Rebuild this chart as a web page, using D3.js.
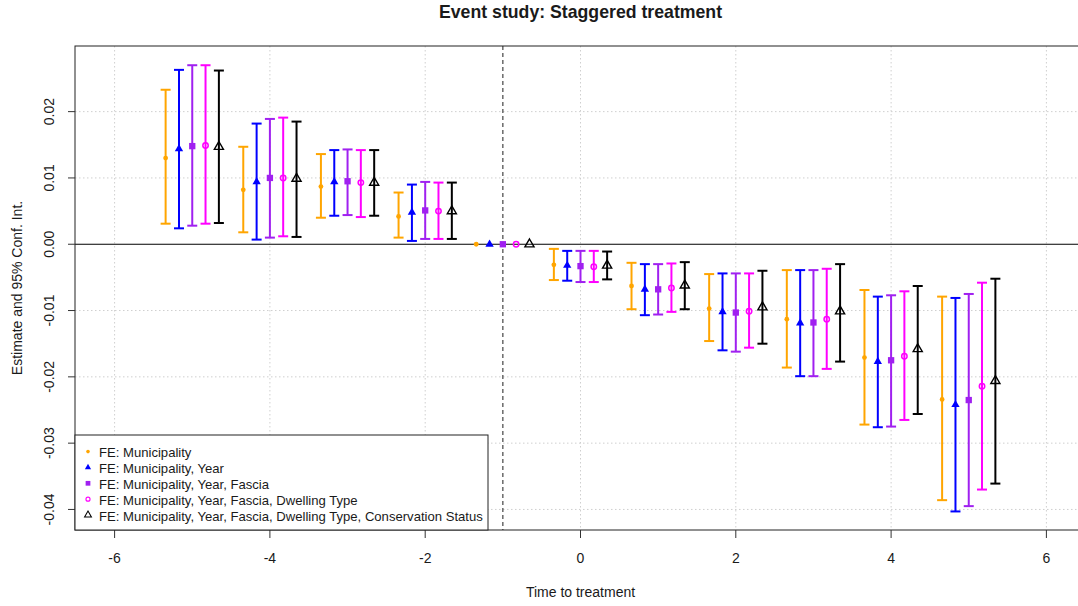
<!DOCTYPE html>
<html>
<head>
<meta charset="utf-8">
<script src="https://cdn.jsdelivr.net/npm/d3@7"></script>
<style>
  body { margin: 0; background: #fff; }
  text { font-family: "Liberation Sans", Arial, sans-serif; fill: #1a1a1a; }
</style>
</head>
<body>
<div id="chart"></div>
<script>
// periods relative to treatment
var periods = [-5, -4, -3, -2, -1, 0, 1, 2, 3, 4, 5];

var seriesNames = [
  "FE: Municipality",
  "FE: Municipality, Year",
  "FE: Municipality, Year, Fascia",
  "FE: Municipality, Year, Fascia, Dwelling Type",
  "FE: Municipality, Year, Fascia, Dwelling Type, Conservation Status"
];

// point estimates
var estMuni  = [0.0130, 0.0082, 0.0087, 0.0042, 0, -0.0031, -0.0063, -0.0097, -0.0113, -0.0171, -0.0234];
var estYear  = [0.0144, 0.0094, 0.0094, 0.0048, 0, -0.0032, -0.0068, -0.0102, -0.0119, -0.0177, -0.0242];
var estFasc  = [0.0148, 0.0100, 0.0095, 0.0051, 0, -0.0033, -0.0068, -0.0103, -0.0118, -0.0175, -0.0235];
var estDwel  = [0.0149, 0.0100, 0.0093, 0.0050, 0, -0.0034, -0.0066, -0.0101, -0.0113, -0.0169, -0.0214];
var estCons  = [0.0147, 0.0099, 0.0093, 0.0050, 0, -0.0032, -0.0062, -0.0095, -0.0101, -0.0158, -0.0206];

// lower bounds of 95% CI
var loMuni = [0.0031, 0.0018, 0.0040, 0.0010, 0, -0.0054, -0.0098, -0.0146, -0.0186, -0.0272, -0.0386];
var loYear = [0.0024, 0.0007, 0.0043, 0.0005, 0, -0.0055, -0.0107, -0.0160, -0.0199, -0.0276, -0.0403];
var loFasc = [0.0028, 0.0010, 0.0044, 0.0008, 0, -0.0057, -0.0106, -0.0162, -0.0199, -0.0275, -0.0395];
var loDwel = [0.0031, 0.0012, 0.0041, 0.0008, 0, -0.0057, -0.0102, -0.0156, -0.0188, -0.0265, -0.0370];
var loCons = [0.0032, 0.0011, 0.0043, 0.0008, 0, -0.0053, -0.0098, -0.0150, -0.0177, -0.0256, -0.0361];

// upper bounds of 95% CI
var hiMuni = [0.0233, 0.0147, 0.0136, 0.0078, 0, -0.0007, -0.0028, -0.0045, -0.0039, -0.0069, -0.0079];
var hiYear = [0.0263, 0.0182, 0.0142, 0.0090, 0, -0.0010, -0.0030, -0.0044, -0.0039, -0.0079, -0.0081];
var hiFasc = [0.0270, 0.0189, 0.0143, 0.0094, 0, -0.0010, -0.0030, -0.0044, -0.0039, -0.0077, -0.0075];
var hiDwel = [0.0270, 0.0191, 0.0142, 0.0093, 0, -0.0010, -0.0029, -0.0044, -0.0037, -0.0071, -0.0058];
var hiCons = [0.0262, 0.0185, 0.0142, 0.0093, 0, -0.0011, -0.0027, -0.0040, -0.0030, -0.0063, -0.0052];

var xTicks = [-6, -4, -2, 0, 2, 4, 6];
var yTicks = [-0.04, -0.03, -0.02, -0.01, 0, 0.01, 0.02];

var ests = [estMuni, estYear, estFasc, estDwel, estCons];
var los  = [loMuni, loYear, loFasc, loDwel, loCons];
var his  = [hiMuni, hiYear, hiFasc, hiDwel, hiCons];

// styling per series
var colors = ["#FFA500", "#0000FF", "#A020F0", "#FF00FF", "#000000"];
var dodge = [-0.343, -0.171, 0, 0.171, 0.343];

var W = 1078, H = 606;
var plot = {left: 75, right: 1086, top: 46, bottom: 530};

var x = d3.scaleLinear().domain([-6.51, 6.51]).range([plot.left, plot.right]);
var y = d3.scaleLinear().domain([-0.0431, 0.0299]).range([plot.bottom, plot.top]);

var svg = d3.select("#chart").append("svg")
    .attr("width", W)
    .attr("height", H);

// grid
svg.append("g").selectAll("line")
    .data(xTicks).enter().append("line")
    .attr("x1", d => x(d)).attr("x2", d => x(d))
    .attr("y1", plot.top).attr("y2", plot.bottom)
    .attr("stroke", "#cfcfcf").attr("stroke-dasharray", "1.5,2.5");
svg.append("g").selectAll("line")
    .data(yTicks.filter(d => d != 0)).enter().append("line")
    .attr("x1", plot.left).attr("x2", plot.right)
    .attr("y1", d => y(d)).attr("y2", d => y(d))
    .attr("stroke", "#cfcfcf").attr("stroke-dasharray", "1.5,2.5");

// zero line and treatment reference
svg.append("line")
    .attr("x1", plot.left).attr("x2", plot.right)
    .attr("y1", y(0)).attr("y2", y(0))
    .attr("stroke", "#000").attr("stroke-width", 1.2);
svg.append("line")
    .attr("x1", x(-1)).attr("x2", x(-1))
    .attr("y1", plot.top).attr("y2", plot.bottom)
    .attr("stroke", "#444").attr("stroke-width", 1.2)
    .attr("stroke-dasharray", "4,3");

// marker drawing, k = scale factor
function marker(sel, i, cx, cy, k) {
  k = k || 1;
  if (i == 0) {
    sel.append("circle").attr("cx", cx).attr("cy", cy).attr("r", 2.4 * k)
      .attr("fill", colors[0]);
  } else if (i == 1) {
    sel.append("path").attr("d", d3.symbol(d3.symbolTriangle, 30 * k * k)())
      .attr("transform", "translate(" + cx + "," + cy + ")")
      .attr("fill", colors[1]);
  } else if (i == 2) {
    sel.append("path").attr("d", d3.symbol(d3.symbolSquare, 40 * k * k)())
      .attr("transform", "translate(" + cx + "," + cy + ")")
      .attr("fill", colors[2]);
  } else if (i == 3) {
    sel.append("circle").attr("cx", cx).attr("cy", cy).attr("r", 2.7 * k)
      .attr("fill", "none").attr("stroke", colors[3]).attr("stroke-width", 1.5 * k);
  } else {
    sel.append("path").attr("d", d3.symbol(d3.symbolTriangle, 36 * k * k)())
      .attr("transform", "translate(" + cx + "," + cy + ")")
      .attr("fill", "none").attr("stroke", colors[4]).attr("stroke-width", 1.4 * k);
  }
}

// error bars + points
ests.forEach(function(est, i) {
  var g = svg.append("g").attr("class", "series");
  periods.forEach(function(p, j) {
    var cx = x(p + dodge[i]);
    if (his[i][j] != los[i][j]) {
      g.append("line")
        .attr("x1", cx).attr("x2", cx)
        .attr("y1", y(los[i][j])).attr("y2", y(his[i][j]))
        .attr("stroke", colors[i]).attr("stroke-width", 2);
      [los[i][j], his[i][j]].forEach(function(v) {
        g.append("line")
          .attr("x1", cx - 5).attr("x2", cx + 5)
          .attr("y1", y(v)).attr("y2", y(v))
          .attr("stroke", colors[i]).attr("stroke-width", 2);
      });
    }
    marker(g, i, cx, y(est[j]));
  });
});

// frame
svg.append("rect")
    .attr("x", plot.left).attr("y", plot.top)
    .attr("width", plot.right - plot.left).attr("height", plot.bottom - plot.top)
    .attr("fill", "none").attr("stroke", "#222").attr("stroke-width", 1);

// x axis
svg.append("g").selectAll("line")
    .data(xTicks).enter().append("line")
    .attr("x1", d => x(d)).attr("x2", d => x(d))
    .attr("y1", plot.bottom).attr("y2", plot.bottom + 8)
    .attr("stroke", "#333");
svg.append("g").selectAll("text")
    .data(xTicks).enter().append("text")
    .attr("x", d => x(d)).attr("y", 563)
    .attr("text-anchor", "middle")
    .style("font-size", "14px")
    .text(d => d);

// y axis
svg.append("g").selectAll("line")
    .data(yTicks).enter().append("line")
    .attr("x1", plot.left - 7).attr("x2", plot.left)
    .attr("y1", d => y(d)).attr("y2", d => y(d))
    .attr("stroke", "#333");
svg.append("g").selectAll("text")
    .data(yTicks).enter().append("text")
    .attr("transform", d => "translate(54," + y(d) + ") rotate(-90)")
    .attr("text-anchor", "middle")
    .style("font-size", "14px")
    .text(d => d3.format(".2f")(d).replace("−", "-"));

// titles
svg.append("text")
    .attr("x", (plot.left + plot.right) / 2).attr("y", 18)
    .attr("text-anchor", "middle")
    .style("font-size", "17.7px").style("font-weight", "bold")
    .text("Event study: Staggered treatment");
svg.append("text")
    .attr("x", (plot.left + plot.right) / 2).attr("y", 597)
    .attr("text-anchor", "middle")
    .style("font-size", "14px")
    .text("Time to treatment");
svg.append("text")
    .attr("transform", "translate(22," + (plot.top + plot.bottom) / 2 + ") rotate(-90)")
    .attr("text-anchor", "middle")
    .style("font-size", "14px")
    .text("Estimate and 95% Conf. Int.");

// legend
var leg = svg.append("g");
leg.append("rect")
    .attr("x", plot.left).attr("y", 435)
    .attr("width", 413).attr("height", plot.bottom - 435)
    .attr("fill", "#fff").attr("stroke", "#222");
seriesNames.forEach(function(name, i) {
  var cy = 452.6 + i * 15.85;
  marker(leg, i, 88, cy - 1, 0.75);
  leg.append("text")
    .attr("x", 99).attr("y", cy + 4.6)
    .style("font-size", "13.1px")
    .text(name);
});
</script>
</body>
</html>
